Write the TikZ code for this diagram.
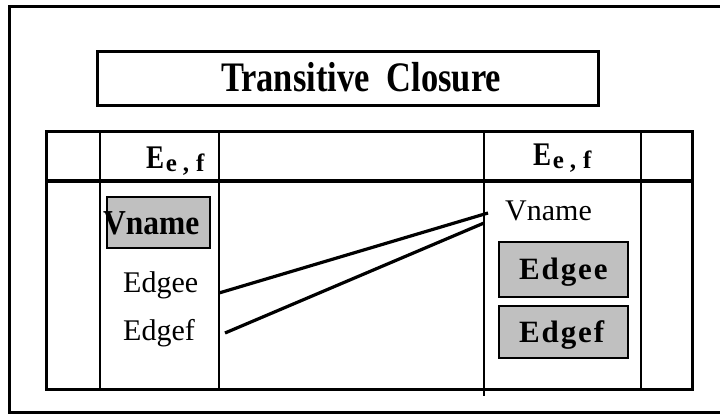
\documentclass[tikz,border=0pt]{standalone}
\usepackage{fontspec}
\usepackage{graphicx}
\setmainfont{Liberation Serif}
\newfontfamily\spacedbold[LetterSpace=6,BoldFont={Liberation Serif Bold}]{Liberation Serif}
\definecolor{cellgray}{RGB}{192,192,192}
\newcommand{\edgeset}{%
  \scalebox{0.82}[1]{\bfseries\fontsize{33}{33}\selectfont E}\kern1.5pt
  \raisebox{-3pt}{\bfseries\fontsize{25}{25}\selectfont e\kern6pt,\kern7pt f}}
\tikzset{
  frame/.style={line width=3pt},
  rule/.style={line width=2.6pt},
  link/.style={line width=3.2pt},
  graybox/.style={draw, line width=2.4pt, fill=cellgray},
  plain/.style={inner sep=0pt, font=\fontsize{30}{30}\selectfont},
  boldcell/.style={inner sep=0pt, font=\spacedbold\bfseries\fontsize{31}{31}\selectfont},
}
\begin{document}
\begin{tikzpicture}[x=1pt, y=-1pt]
\useasboundingbox (0,0) rectangle (720,416);
% outer frame (runs off the right side)
\draw[frame] (730,6) -- (9,6) -- (9,412) -- (730,412);
% title
\draw[frame] (97,51) rectangle (598,105);
\node[inner sep=0pt, anchor=base] (title) at (361,91)
  {\fontsize{42}{42}\selectfont\bfseries\scalebox{0.82}[1]{Transitive\ \ Closure}};
% table body
\draw[frame] (46,131) rectangle (692,389);
\draw[line width=4pt] (46,181) -- (692,181);
\draw[rule] (100,131) -- (100,389);
\draw[rule] (219,131) -- (219,389);
\draw[rule] (484,131) -- (484,396);
\draw[rule] (641,131) -- (641,389);
% column headers
\node[inner sep=0pt, anchor=base west] (hl) at (146,168) {\edgeset};
\node[inner sep=0pt, anchor=base west] (hr) at (533,165) {\edgeset};
% left column entries
\draw[graybox] (107,197) rectangle (210,248);
\node[inner sep=0pt, anchor=base west] (vl) at (103,234)
  {\scalebox{0.9}[1]{\bfseries\fontsize{35}{35}\selectfont Vname}};
\node[plain, anchor=base west] (eel) at (123,292) {Edgee};
\node[plain, anchor=base west] (efl) at (123,340) {Edgef};
% right column entries
\node[plain, anchor=base west] (vr) at (505,220) {Vname};
\draw[graybox] (499,242) rectangle (628,297);
\node[boldcell, anchor=base west] (eer) at (519,279) {Edgee};
\draw[graybox] (499,306) rectangle (628,358);
\node[boldcell, anchor=base west] (efr) at (519,342) {Edgef};
% links from the edges to the vertex name
\coordinate (eel-out) at (219,293);
\coordinate (efl-out) at (225,333);
\coordinate (vr-in1) at (488,213);
\coordinate (vr-in2) at (484,223);
\draw[link] (eel-out) -- (vr-in1);
\draw[link] (efl-out) -- (vr-in2);
\end{tikzpicture}
\end{document}
